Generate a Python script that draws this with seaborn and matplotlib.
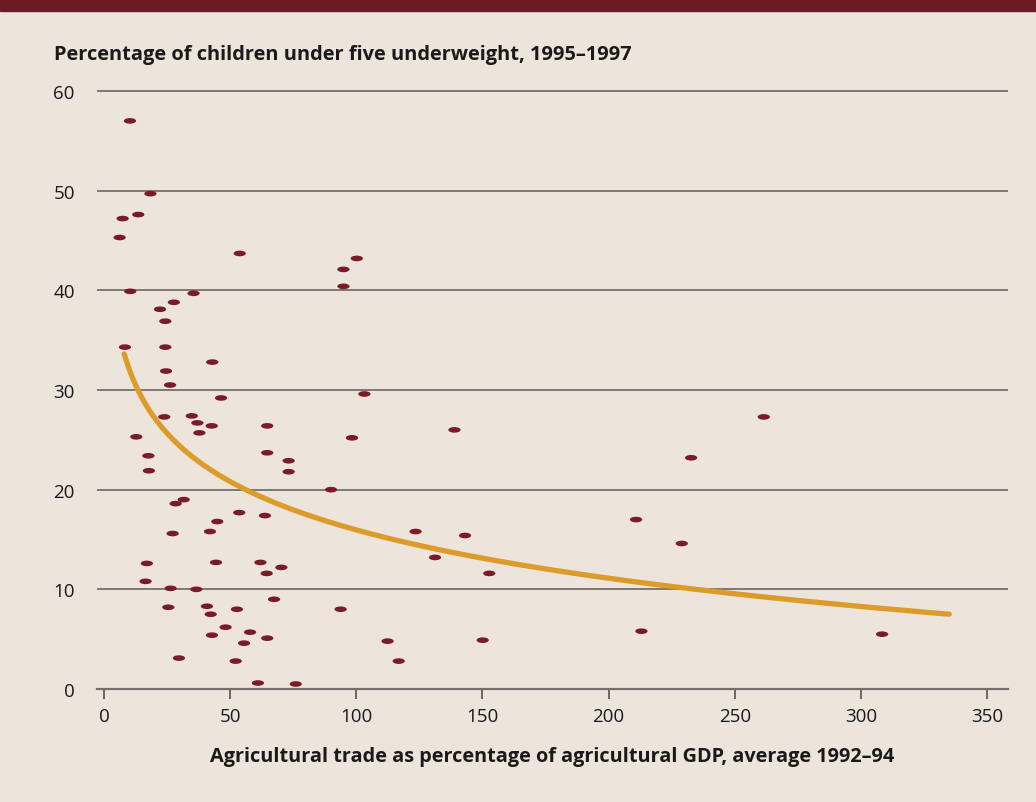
import numpy as np
import pandas as pd
import matplotlib
matplotlib.use("Agg")
import matplotlib.pyplot as plt
import matplotlib.path as mpath
from matplotlib.markers import MarkerStyle
from matplotlib.transforms import Affine2D
import seaborn as sns

# agricultural trade as % of agricultural GDP (avg 1992-94)
trade = [10.3, 18.4, 7.4, 13.6, 6.2, 53.8, 94.9, 100.2, 94.9, 10.4,
         35.5, 27.7, 22.2, 24.3, 8.3, 24.3, 42.9, 24.6, 26.2, 46.4,
         23.9, 34.8, 37.0, 42.7, 37.8, 64.7, 12.8, 98.3, 17.6, 64.7,
         73.2, 73.2, 17.8, 90.0, 31.6, 28.4, 53.6, 63.8, 44.9, 42.0,
         27.2, 17.0, 44.4, 62.0, 64.5, 70.3, 16.5, 26.4, 36.6, 67.4,
         25.5, 40.8, 52.7, 93.8, 42.3, 48.2, 57.9, 42.8, 64.7, 55.5,
         29.7, 52.2, 61.0, 76.0, 103.2, 138.9, 123.5, 143.1, 131.2, 152.7,
         210.9, 112.4, 150.1, 116.8, 213.0, 261.5, 232.7, 229.0, 308.4]
# children under five underweight (%), 1995-97
underweight = [57.0, 49.7, 47.2, 47.6, 45.3, 43.7, 42.1, 43.2, 40.4, 39.9,
               39.7, 38.8, 38.1, 36.9, 34.3, 34.3, 32.8, 31.9, 30.5, 29.2,
               27.3, 27.4, 26.7, 26.4, 25.7, 26.4, 25.3, 25.2, 23.4, 23.7,
               22.9, 21.8, 21.9, 20.0, 19.0, 18.6, 17.7, 17.4, 16.8, 15.8,
               15.6, 12.6, 12.7, 12.7, 11.6, 12.2, 10.8, 10.1, 10.0, 9.0,
               8.2, 8.3, 8.0, 8.0, 7.5, 6.2, 5.7, 5.4, 5.1, 4.6,
               3.1, 2.8, 0.6, 0.5, 29.6, 26.0, 15.8, 15.4, 13.2, 11.6,
               17.0, 4.8, 4.9, 2.8, 5.8, 27.3, 23.2, 14.6, 5.5]

xticks = [0, 50, 100, 150, 200, 250, 300, 350]
yticks = [0, 10, 20, 30, 40, 50, 60]

df = pd.DataFrame({"trade": trade, "underweight": underweight})

bg = "#EDE4DC"
dot = "#7A1B2A"
trend = "#DC9C2B"
grid = "#76706B"

sns.set_theme(style="white")
plt.rcParams["font.family"] = ["Open Sans", "DejaVu Sans"]

fig = plt.figure(figsize=(10.36, 8.03), dpi=100, facecolor=bg)
ax = fig.add_axes([97 / 1036, 1 - 690 / 803, 911 / 1036, (690 - 87) / 803])
ax.set_facecolor(bg)

# dark red band at top
fig.patches.append(plt.Rectangle((0, 1 - 12 / 803), 1, 12 / 803,
                                 transform=fig.transFigure, color="#6E1A24", zorder=0))

ellipse = mpath.Path.unit_circle().transformed(Affine2D().scale(1, 0.46))
sns.scatterplot(data=df, x="trade", y="underweight", ax=ax, color=dot,
                marker=MarkerStyle(ellipse), s=78, edgecolor="none", zorder=3)

# logarithmic trend fitted to the points
b, a = np.polyfit(np.log(df["trade"]), df["underweight"], 1)
xs = np.linspace(8, 335, 200)
sns.lineplot(x=xs, y=a + b * np.log(xs), ax=ax, color=trend, lw=3.8, zorder=2)

ax.set_xlim(-2.77, 358.3)
ax.set_ylim(0, 60.5)
ax.set_xticks(xticks)
ax.set_yticks(yticks)
ax.grid(axis="y", color=grid, lw=1.3)
ax.grid(axis="x", visible=False)
ax.set_axisbelow(True)
for side in ["top", "right", "left"]:
    ax.spines[side].set_visible(False)
ax.spines["bottom"].set_color(grid)
ax.spines["bottom"].set_linewidth(1.6)
ax.tick_params(axis="x", bottom=True, length=7, width=1.2, color="#55504c",
               labelsize=13.5, pad=6, labelcolor="#1a1a1a")
ax.tick_params(axis="y", left=False, labelsize=13.5, pad=10, labelcolor="#1a1a1a")

ax.set_xlabel("Agricultural trade as percentage of agricultural GDP, average 1992–94",
              fontsize=14.3, fontweight="bold", labelpad=15, color="#1a1a1a")
ax.set_ylabel("")
fig.text(54 / 1036, 1 - 55 / 803, "Percentage of children under five underweight, 1995–1997",
         fontsize=14.4, fontweight="bold", va="center", ha="left", color="#1a1a1a")

fig.savefig("out.png", dpi=100, facecolor=bg)
